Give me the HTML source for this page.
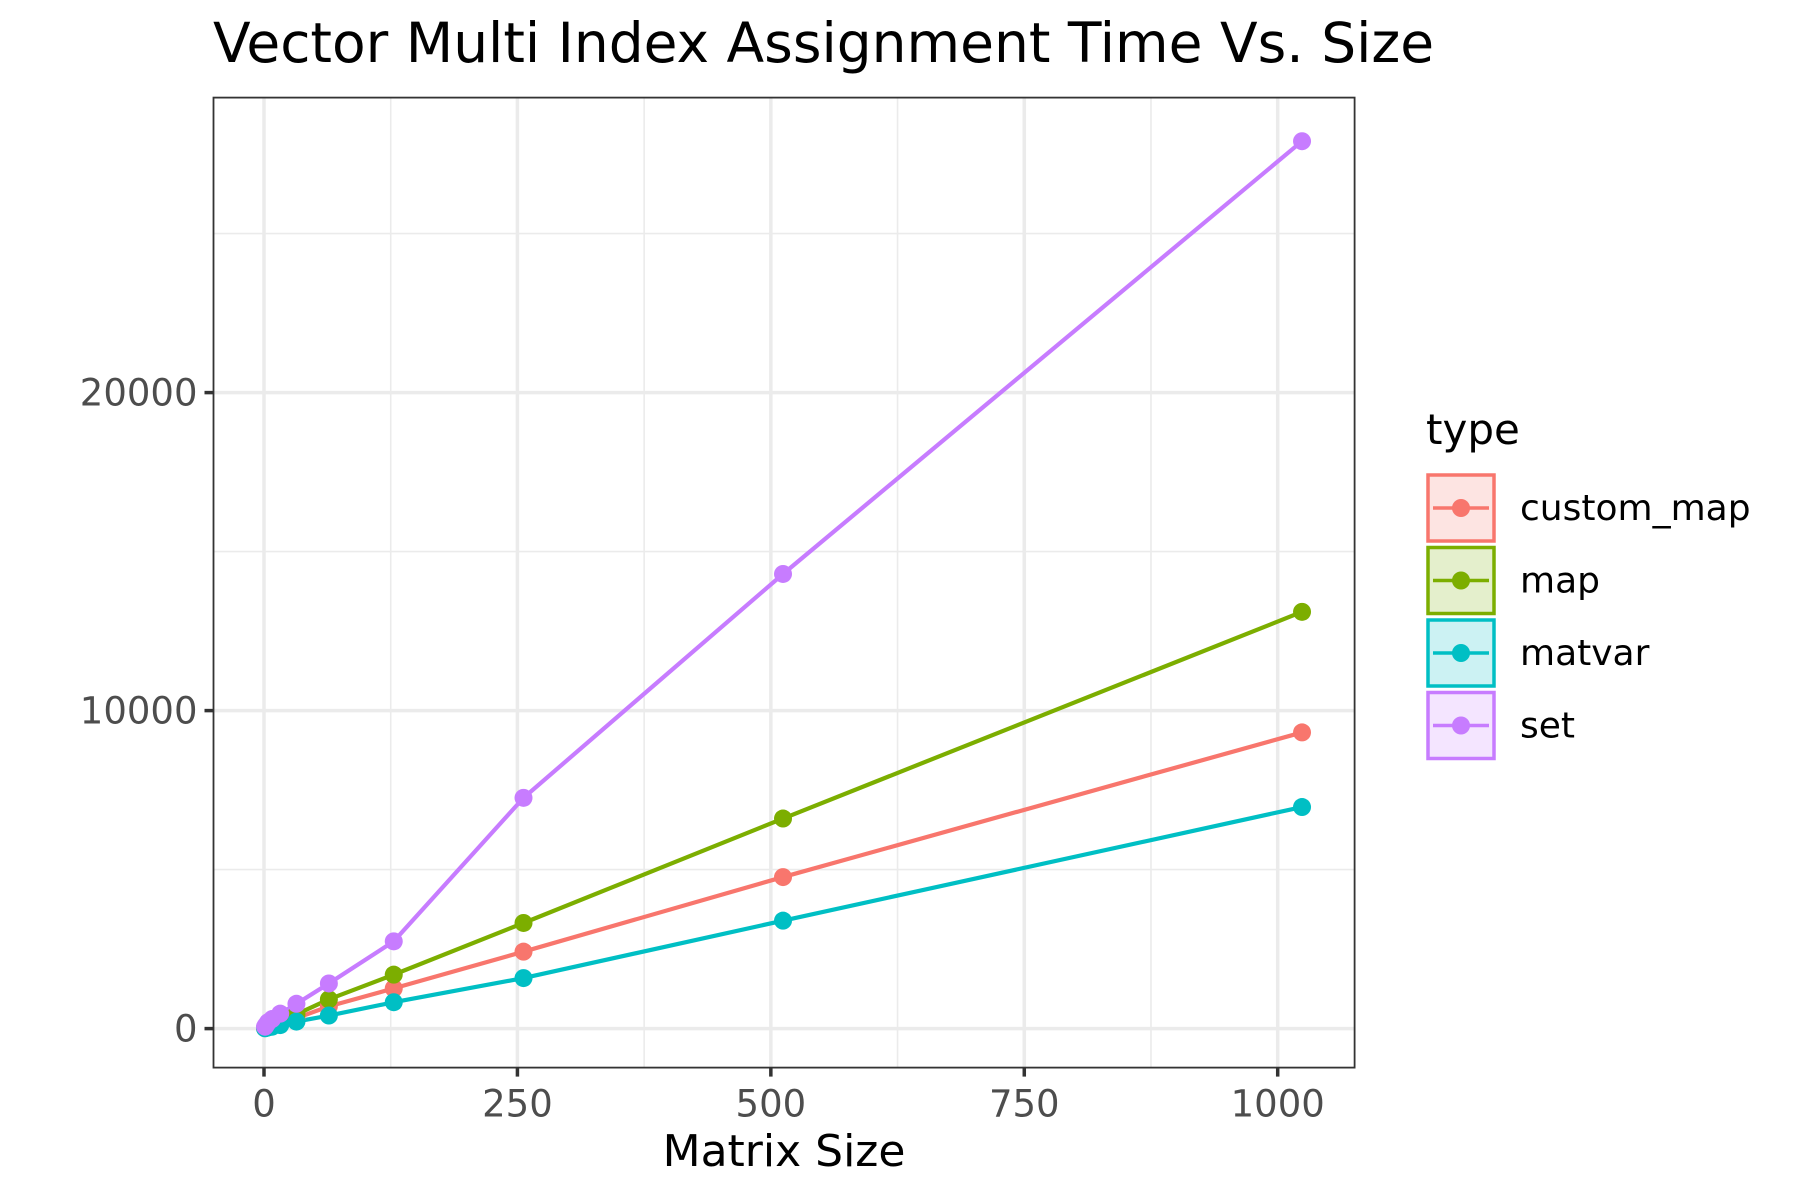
<!DOCTYPE html>
<html><head><meta charset="utf-8"><style>
html,body{margin:0;padding:0;background:#fff;}
svg{display:block;font-family:"DejaVu Sans","Liberation Sans",sans-serif;}
</style></head><body>
<svg id="chart" width="1800" height="1200">
<text x="213" y="62" font-size="55" fill="#000">Vector Multi Index Assignment Time Vs. Size</text>
<g id="plot"></g>
</svg>
<script>
const xValues=[1,2,4,8,16,32,64,128,256,512,1024];
const seriesNames=["custom_map","map","matvar","set"];
const customMapValues=[15,30,60,110,170,330,700,1264,2419,4765,9314];
const mapValues=[20,40,80,140,220,450,920,1697,3321,6606,13105];
const matvarValues=[10,20,35,60,110,220,410,830,1588,3394,6968];
const setValues=[60,110,200,300,470,780,1420,2744,7256,14296,27906];
const xTicks=[0,250,500,750,1000];
const xMinor=[125,375,625,875];
const yTicks=[0,10000,20000];
const yMinor=[5000,15000,25000];
const colors=["#F8766D","#7CAE00","#00BFC4","#C77CFF"];
const fills=["#FDE4E2","#E4EFCC","#CCF2F3","#F4E5FF"];
const allSeries=[customMapValues,mapValues,matvarValues,setValues];

const L=213.5,R=1354.6,T=97.6,B=1067.6;
const X=v=>264+(v-0)*(1277.7-264)/1000;
const Y=v=>1028.6-(v)*(1028.6-392.6)/20000;
const NS="http://www.w3.org/2000/svg";
const g=document.getElementById('plot');
function mk(tag,attrs,parent){const e=document.createElementNS(NS,tag);for(const k in attrs)e.setAttribute(k,attrs[k]);(parent||g).appendChild(e);return e;}

mk('rect',{x:L,y:T,width:R-L,height:B-T,fill:'#fff'});
xMinor.forEach(v=>{const e=mk('line',{x1:X(v),x2:X(v),y1:T,y2:B,stroke:'#ebebeb','stroke-width':1.6});

});
yMinor.forEach(v=>{const e=mk('line',{x1:L,x2:R,y1:Y(v),y2:Y(v),stroke:'#ebebeb','stroke-width':1.6});

});
xTicks.forEach(v=>{const e=mk('line',{x1:X(v),x2:X(v),y1:T,y2:B,stroke:'#ebebeb','stroke-width':3.5});


mk('line',{x1:X(v),x2:X(v),y1:B,y2:B+9,stroke:'#333','stroke-width':3.5});
const t=mk('text',{x:X(v),y:B+49,'font-size':37,fill:'#4d4d4d','text-anchor':'middle'});t.textContent=v;

});
yTicks.forEach(v=>{const e=mk('line',{x1:L,x2:R,y1:Y(v),y2:Y(v),stroke:'#ebebeb','stroke-width':3.5});


mk('line',{x1:L-9,x2:L,y1:Y(v),y2:Y(v),stroke:'#333','stroke-width':3.5});
const t=mk('text',{x:L-16,y:Y(v)+13,'font-size':37,fill:'#4d4d4d','text-anchor':'end'});t.textContent=v;

});

allSeries.forEach((vals,i)=>{
 const pts=vals.map((v,j)=>X(xValues[j])+','+Y(v)).join(' ');
 const pl=mk('polyline',{points:pts,fill:'none',stroke:colors[i],'stroke-width':4.2,'stroke-linejoin':'round'});
 
 
});
allSeries.forEach((vals,i)=>{
 vals.forEach((v,j)=>{const c=mk('circle',{cx:X(xValues[j]),cy:Y(v),r:9,fill:colors[i]});
 
 });
});
const fr=mk('rect',{x:L,y:T,width:R-L,height:B-T,fill:'none',stroke:'#333','stroke-width':1.8});



const xt=mk('text',{x:(L+R)/2,y:1166,'font-size':44,fill:'#000','text-anchor':'middle'});xt.textContent='Matrix Size';



const lt=mk('text',{x:1426,y:444,'font-size':42,fill:'#000'});lt.textContent='type';


seriesNames.forEach((n,i)=>{
 const y0=475+i*72.5;
 const k=mk('rect',{x:1428,y:y0,width:66,height:66,fill:fills[i],stroke:colors[i],'stroke-width':3.5});
 
 
 mk('line',{x1:1433,x2:1489,y1:y0+33,y2:y0+33,stroke:colors[i],'stroke-width':3.5});
 mk('circle',{cx:1461,cy:y0+33,r:9,fill:colors[i]});
 const t=mk('text',{x:1520,y:y0+45,'font-size':36,fill:'#000'});t.textContent=n;
 
 
});
</script>
</body></html>
